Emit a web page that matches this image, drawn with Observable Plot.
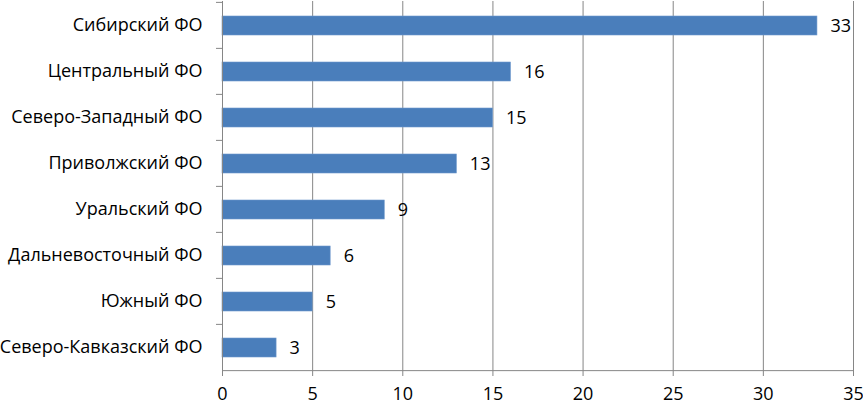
<!DOCTYPE html>
<html>
<head>
<meta charset="utf-8">
<script src="https://cdn.jsdelivr.net/npm/d3@7"></script>
<script src="https://cdn.jsdelivr.net/npm/@observablehq/plot@0.6"></script>
<style>
  html, body { margin: 0; padding: 0; background: #fff; }
  svg { display: block; }
</style>
</head>
<body>
<div id="chart"></div>
<script>
const categories = [
  "Сибирский ФО",
  "Центральный ФО",
  "Северо-Западный ФО",
  "Приволжский ФО",
  "Уральский ФО",
  "Дальневосточный ФО",
  "Южный ФО",
  "Северо-Кавказский ФО"
];
const values = [33, 16, 15, 13, 9, 6, 5, 3];
const xTicks = [0, 5, 10, 15, 20, 25, 30, 35];

const data = categories.map((c, i) => ({category: c, value: values[i]}));

const W = 863, H = 405;
const mTop = 1, mBottom = 34, mLeft = 222, mRight = 10;
const step = (H - mTop - mBottom) / categories.length;
const gridColor = "#868686";
const font = "'Open Sans', sans-serif";
const fs = 18;

const chart = Plot.plot({
  width: W,
  height: H,
  marginTop: mTop,
  marginBottom: mBottom,
  marginLeft: mLeft,
  marginRight: mRight,
  style: {fontFamily: font, fontSize: fs + "px", color: "#000", background: "#fff", overflow: "visible"},
  x: {domain: [0, 35], ticks: xTicks, label: null},
  y: {domain: categories, padding: 0, label: null},
  marks: [
    Plot.ruleX(xTicks.slice(1), {stroke: gridColor, strokeWidth: 1}),
    Plot.barX(data, {
      x: "value", y: "category",
      fill: "#4a7ebb", stroke: "#6d98cc", strokeWidth: 0.6,
      insetTop: 14, insetBottom: 13
    }),
    Plot.text(data, {
      x: "value", y: "category", text: d => String(d.value),
      textAnchor: "start", dx: 13, dy: 1, fill: "#000", fontSize: fs
    }),
    Plot.ruleX([0], {stroke: gridColor, strokeWidth: 1}),
    Plot.ruleY([categories[categories.length - 1]], {x1: 0, x2: 35, stroke: gridColor, dy: step / 2}),
    Plot.ruleY(categories, {y: d => d, x1: -6 / 18, x2: 0, stroke: gridColor, dy: -step / 2}),
    Plot.axisX({
      ticks: xTicks, tickSize: 5, stroke: gridColor, tickPadding: 11,
      fill: "#000", fontSize: fs, label: null
    }),
    Plot.axisY({
      tickSize: 0, tickPadding: 20, fill: "#000", fontSize: fs, label: null
    })
  ]
});

document.getElementById("chart").appendChild(chart);
</script>
</body>
</html>
